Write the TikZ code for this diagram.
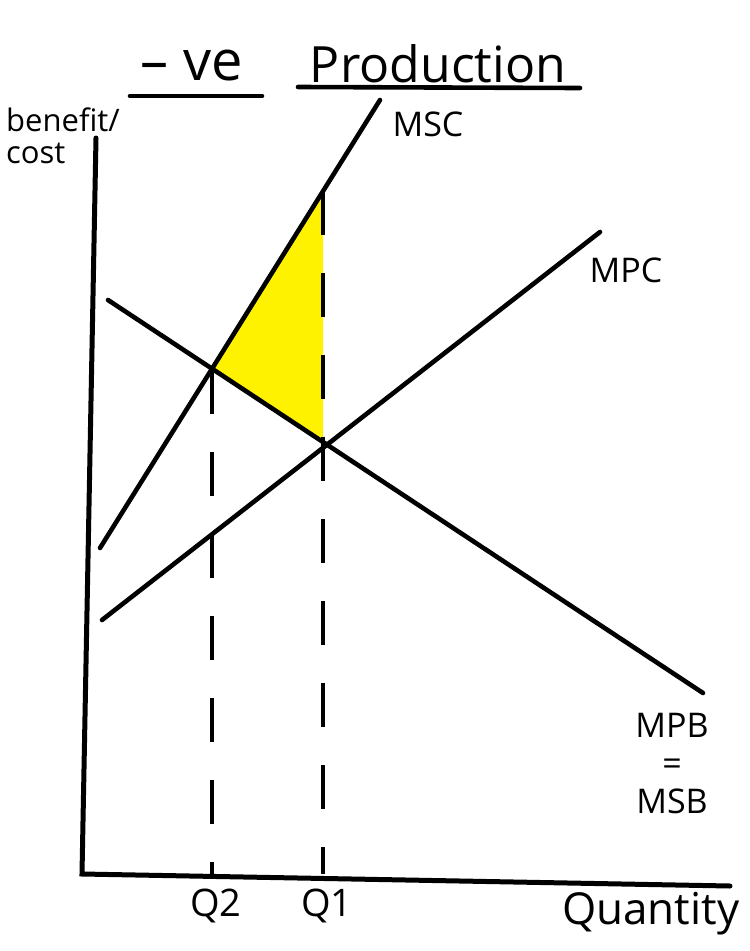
\documentclass[tikz,border=0pt]{standalone}
\usepackage{fontspec}
\setmainfont{Open Sans}
\usepackage{tikz}
\usetikzlibrary{positioning, calc}

\definecolor{hilite}{RGB}{255,242,0}

\begin{document}
\begin{tikzpicture}[
  x=1pt, y=-1pt,
  axis/.style={line width=5pt, line cap=round},
  curve/.style={line width=4.6pt, line cap=round},
  dashline/.style={line width=4.6pt, dash pattern=on 44pt off 38pt},
  ulin/.style={line width=4.6pt, line cap=round},
  ttl/.style={font=\fontsize{50}{58}\selectfont, inner sep=0pt},
  axlbl/.style={font=\fontsize{31}{32}\selectfont, inner sep=0pt, anchor=west},
  crvlbl/.style={font=\fontsize{34}{38}\selectfont, inner sep=0pt},
  qlbl/.style={font=\fontsize{38}{40}\selectfont, inner sep=0pt}
]
  \useasboundingbox[fill=white] (0,0) rectangle (750,951);

  % Titel
  \node[ttl, font=\fontsize{56}{60}\selectfont] (neg) at (192,66) {\textendash\ ve};
  \node[ttl] (prod) at (438,64) {Production};
  \coordinate (u1a) at (130,96);
  \coordinate (u1b) at (262,96);
  \coordinate (u2a) at (298,87);
  \coordinate (u2b) at (580,88);
  \draw[ulin] (u1a) -- (u1b);
  \draw[ulin] (u2a) -- (u2b);

  % Achsen
  \coordinate (O) at (82,874);
  \coordinate (ytop) at (96,138);
  \coordinate (xend) at (730,886);
  \node[axlbl] (benefit) at (6,120) {benefit/};
  \node[axlbl] (cost) at (6,153) {cost};
  \node[font=\fontsize{44}{46}\selectfont, inner sep=0pt, anchor=west] (qty) at (562,914) {Quantity};

  % Endpunkte der Kurven
  \coordinate (msc0) at (100,548);
  \coordinate (msc1) at (380,100);
  \coordinate (mpc0) at (102,620);
  \coordinate (mpc1) at (600,232);
  \coordinate (mpb0) at (108,300);
  \coordinate (mpb1) at (703,693);

  % Gleichgewichte
  \coordinate (e2) at (212,370);
  \coordinate (e1) at (323,444);
  \coordinate (top) at (323,191);

  % Wohlfahrtsverlust
  \fill[hilite] (e2) -- (top) -- (e1) -- cycle;

  % Hilfslinien
  \draw[dashline] (e2) -- (e2 |- O);
  \draw[dashline] (top) -- (top |- O);

  \draw[axis] (ytop) -- (O) -- (xend);
  \draw[curve] (msc0) -- (msc1);
  \draw[curve] (mpc0) -- (mpc1);
  \draw[curve] (mpb0) -- (mpb1);

  % Beschriftung
  \node[crvlbl] (msclbl) at (428,124) {MSC};
  \node[crvlbl] (mpclbl) at (626,270) {MPC};
  \node[crvlbl, align=center] (mpblbl) at (672,764) {MPB\\=\\MSB};
  \node[qlbl] (q2) at (216,906) {Q2};
  \node[qlbl] (q1) at (327,906) {Q1};
\end{tikzpicture}
\end{document}
